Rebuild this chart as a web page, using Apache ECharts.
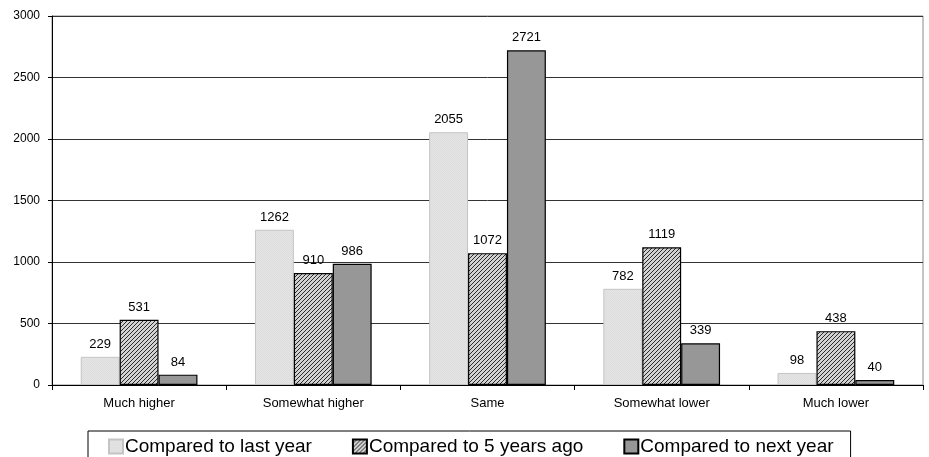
<!DOCTYPE html>
<html>
<head>
<meta charset="utf-8">
<script src="https://cdn.jsdelivr.net/npm/echarts@6/dist/echarts.min.js"></script>
<style>
  html, body { margin: 0; padding: 0; background: #fff; }
  #chart { width: 929px; height: 457px; }
</style>
</head>
<body>
<div id="chart"></div>
<script>
// Answer categories and counts for each comparison
const categories = ['Much higher', 'Somewhat higher', 'Same', 'Somewhat lower', 'Much lower'];
const seriesNames = ['Compared to last year', 'Compared to 5 years ago', 'Compared to next year'];
const lastYear = [229, 1262, 2055, 782, 98];
const fiveYearsAgo = [531, 910, 1072, 1119, 438];
const nextYear = [84, 986, 2721, 339, 40];
const yTicks = { min: 0, max: 3000, interval: 500 };

// Diagonal hatch tile (/ direction) for the middle series
function hatchTile() {
  const c = document.createElement('canvas');
  c.width = 4; c.height = 4;
  const g = c.getContext('2d');
  g.fillStyle = '#d2d2d2';
  g.fillRect(0, 0, 4, 4);
  g.fillStyle = '#2a2a2a';
  for (let i = 0; i < 4; i++) g.fillRect(i, 3 - i, 1, 1);
  return c;
}

// Fine speckled tile for the light series
function lightTile() {
  const c = document.createElement('canvas');
  c.width = 2; c.height = 2;
  const g = c.getContext('2d');
  g.fillStyle = '#e6e6e6';
  g.fillRect(0, 0, 2, 2);
  g.fillStyle = '#dcdcdc';
  g.fillRect(0, 0, 1, 1);
  g.fillRect(1, 1, 1, 1);
  return c;
}

const FONT = "'Liberation Sans', Arial, sans-serif";

const labelStyle = {
  show: true,
  position: 'top',
  distance: 6,
  color: '#000',
  fontFamily: FONT,
  fontSize: 13
};

const chart = echarts.init(document.getElementById('chart'), null, { renderer: 'canvas' });

chart.setOption({
  animation: false,
  backgroundColor: '#fff',
  grid: {
    left: 52, right: 6, top: 16, bottom: 72,
    show: true, borderColor: '#8a8a8a', borderWidth: 1
  },
  legend: {
    data: seriesNames,
    left: 88,
    top: 431,
    itemWidth: 14,
    itemHeight: 14,
    itemGap: 40,
    icon: 'rect',
    padding: [6, 17, 8, 20],
    borderColor: '#000',
    borderWidth: 1,
    textStyle: { fontFamily: FONT, fontSize: 19, color: '#000', padding: [0, 0, 0, -3] }
  },
  xAxis: {
    type: 'category',
    data: categories,
    axisLine: { lineStyle: { color: '#000', width: 1 } },
    axisTick: { show: true, length: 5, lineStyle: { color: '#000' } },
    axisLabel: { color: '#000', fontFamily: FONT, fontSize: 13, margin: 12 },
    splitLine: { show: false }
  },
  yAxis: {
    type: 'value',
    min: yTicks.min,
    max: yTicks.max,
    interval: yTicks.interval,
    axisLine: { show: true, lineStyle: { color: '#000', width: 1 } },
    axisTick: { show: true, length: 4, lineStyle: { color: '#000' } },
    axisLabel: {
      color: '#000', fontFamily: FONT, fontSize: 12, margin: 12,
      formatter: (v) => String(v)
    },
    splitLine: { show: true, lineStyle: { color: '#333', width: 1 } }
  },
  series: [
    {
      name: seriesNames[0],
      type: 'bar',
      data: lastYear,
      barGap: '0%',
      barCategoryGap: '33%',
      itemStyle: {
        color: { image: lightTile(), repeat: 'repeat' },
        borderColor: '#c4c4c4',
        borderWidth: 1
      },
      label: labelStyle
    },
    {
      name: seriesNames[1],
      type: 'bar',
      data: fiveYearsAgo,
      barGap: '0%',
      barCategoryGap: '33%',
      itemStyle: {
        color: { image: hatchTile(), repeat: 'repeat' },
        borderColor: '#000',
        borderWidth: 1.2
      },
      label: labelStyle
    },
    {
      name: seriesNames[2],
      type: 'bar',
      data: nextYear,
      barGap: '0%',
      barCategoryGap: '33%',
      itemStyle: {
        color: '#979797',
        borderColor: '#000',
        borderWidth: 1.2
      },
      label: labelStyle
    }
  ]
});
</script>
</body>
</html>
